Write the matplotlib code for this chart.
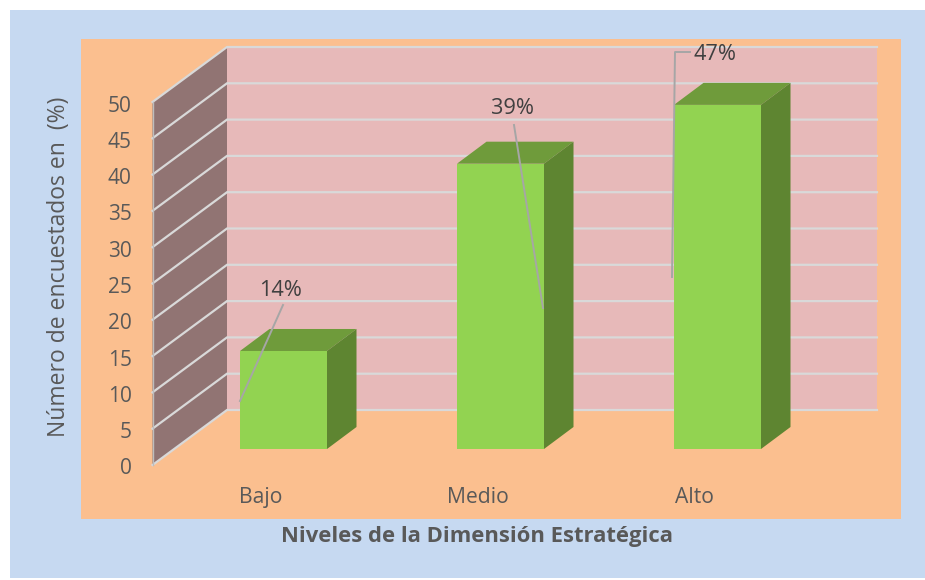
import matplotlib
matplotlib.use('Agg')
import matplotlib.pyplot as plt
from matplotlib.patches import Polygon, Rectangle
from matplotlib.transforms import ScaledTranslation

# values
niveles = ['Bajo', 'Medio', 'Alto']
encuestados = [13.5, 39.3, 47.4]
etiquetas = ['14%', '39%', '47%']
y_ticks = [0, 5, 10, 15, 20, 25, 30, 35, 40, 45, 50]

W, H = 925, 580
plt.rcParams['font.family'] = ['Open Sans', 'DejaVu Sans']

fig = plt.figure(figsize=(W / 100, H / 100), dpi=100, facecolor='white')

# outer blue panel and orange chart area
fig.add_artist(Rectangle((10 / W, 1 - 578 / H), 915 / W, 568 / H, transform=fig.transFigure,
                         fc='#C6D9F1', ec='none', zorder=-5))
fig.add_artist(Rectangle((81 / W, 1 - 519 / H), 820 / W, 480 / H, transform=fig.transFigure,
                         fc='#FBBF8F', ec='none', zorder=-4))

# axes box is the front edge of the side wall, extending to the right end of back wall
left, right, top, bottom = 152.5, 877, 102, 465
ax = fig.add_axes([left / W, 1 - bottom / H, (right - left) / W, (bottom - top) / H])
ax.patch.set_visible(False)
for s in ax.spines.values():
    s.set_visible(False)

px_cat = 217.0
x0_px = 283.5
px_val = (bottom - top) / 50.0
ax.set_xlim((left - x0_px) / px_cat, (right - x0_px) / px_cat)
ax.set_ylim(0, 50)

x_front = (left - x0_px) / px_cat
x_end = (right - x0_px) / px_cat
wall_dx = 74.5 / px_cat
wall_dy = 55.0 / px_val
bar_w = 87.0 / px_cat
bar_dx = 29.5 / px_cat
bar_dy = 22.0 / px_val
floor = 16.0 / px_val

grid_c = '#D9D9D9'
x_back = x_front + wall_dx

# walls
ax.add_patch(Polygon([(x_front, 0), (x_back, wall_dy), (x_back, 50 + wall_dy), (x_front, 50)],
                     fc='#917473', ec='none', clip_on=False, zorder=1))
ax.add_patch(Rectangle((x_back, wall_dy), x_end - x_back, 50, fc='#E7B9B9', ec='none',
                       clip_on=False, zorder=1))

# gridlines, along side wall and back wall
for v in y_ticks:
    ax.plot([x_front, x_back, x_end], [v, v + wall_dy, v + wall_dy], color=grid_c, lw=1.6,
            clip_on=False, zorder=2, solid_joinstyle='miter')
ax.plot([x_front, x_front], [0, 50], color='#BDBDBD', lw=1, clip_on=False, zorder=2)

# 3d looking bars
for i, v in enumerate(encuestados):
    x1 = i - bar_w / 2
    x2 = i + bar_w / 2
    t = floor + v
    ax.bar(i, v, width=bar_w, bottom=floor, color='#92D351', zorder=4)
    ax.add_patch(Polygon([(x1, t), (x2, t), (x2 + bar_dx, t + bar_dy), (x1 + bar_dx, t + bar_dy)],
                         fc='#6F9B3B', ec='none', clip_on=False, zorder=4))
    ax.add_patch(Polygon([(x2, floor), (x2 + bar_dx, floor + bar_dy), (x2 + bar_dx, t + bar_dy), (x2, t)],
                         fc='#5E8531', ec='none', clip_on=False, zorder=4))


def dx(p):
    return (p - x0_px) / px_cat


def dy(p):
    return (bottom - p) / px_val


# leader lines and data labels
leaders = [[(240, 401), (283, 305)],
           [(543, 308), (514, 125)],
           [(672, 277), (675, 52), (690, 52)]]
label_pos = [(281, 290), (512, 109), (715, 55)]
for line, pos, lab in zip(leaders, label_pos, etiquetas):
    ax.plot([dx(p[0]) for p in line], [dy(p[1]) for p in line], color='#A6A6A6', lw=1.4,
            clip_on=False, zorder=5)
    ax.text(dx(pos[0]), dy(pos[1]), lab, ha='center', va='center', fontsize=15.7,
            color='#404040', zorder=6)

# ticks
ax.set_yticks(y_ticks)
ax.set_yticklabels([str(v) for v in y_ticks], fontsize=15, color='#595959')
ax.tick_params(axis='y', length=0, pad=15)
shift = ScaledTranslation(0, -1.5 / 100, fig.dpi_scale_trans)
for lab in ax.get_yticklabels():
    lab.set_transform(lab.get_transform() + shift)
ax.set_xticks([i - 23 / px_cat for i in range(len(niveles))])
ax.set_xticklabels(niveles, fontsize=15.2, color='#595959')
ax.tick_params(axis='x', length=0, pad=16)

ax.set_ylabel('Número de encuestados en  (%)', fontsize=16.5, color='#595959', va='center')
ax.yaxis.set_label_coords((59 - left) / (right - left), (bottom - 267) / (bottom - top))
ax.set_xlabel('Niveles de la Dimensión Estratégica', fontsize=15.85, fontweight='bold', color='#595959')
ax.xaxis.set_label_coords((477 - left) / (right - left), (bottom - 536.5) / (bottom - top))
ax.xaxis.label.set_verticalalignment('center')

fig.savefig('out.png', dpi=100)
